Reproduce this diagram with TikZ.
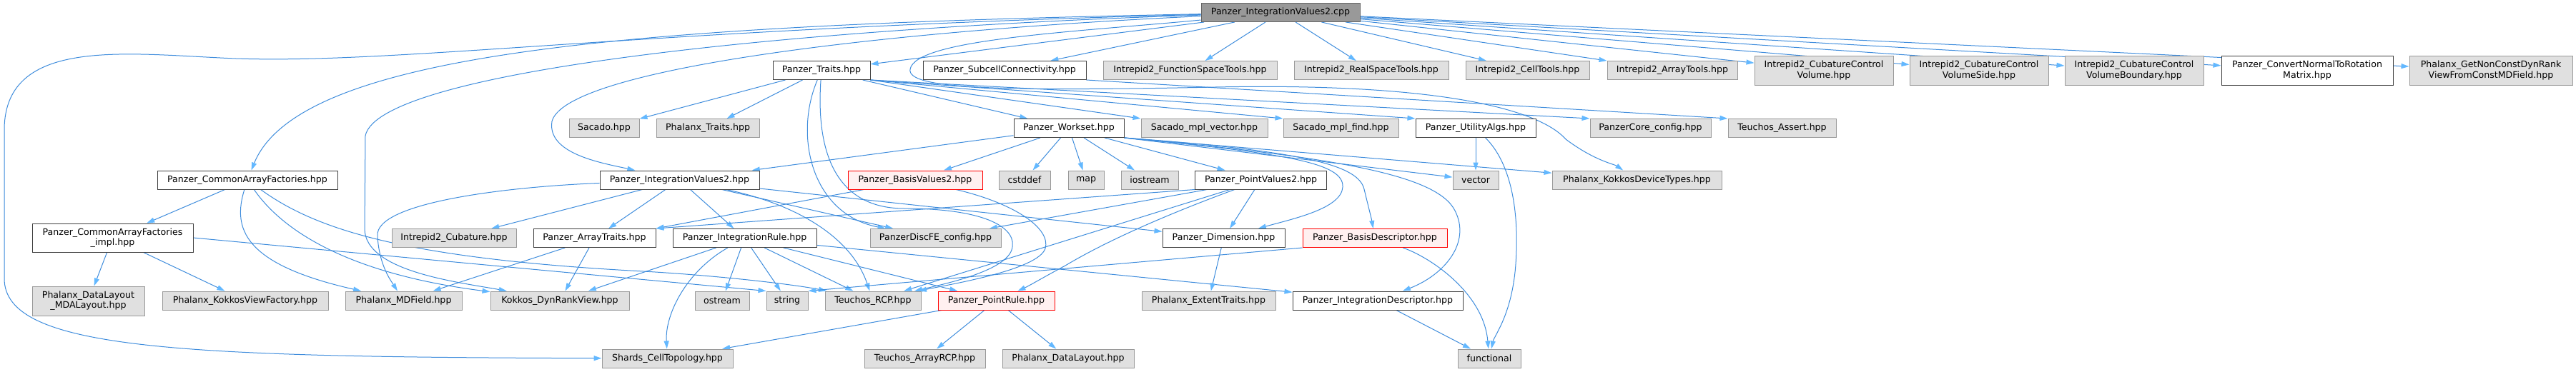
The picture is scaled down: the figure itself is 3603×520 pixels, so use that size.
\documentclass[tikz,border=0pt]{standalone}
\usepackage{fontspec}
\setmainfont{DejaVu Sans}
\usetikzlibrary{arrows.meta}
\definecolor{edgeblue}{RGB}{62,140,220}
\definecolor{headblue}{RGB}{99,184,255}
\definecolor{boxdraw}{RGB}{64,64,64}
\definecolor{sysfill}{RGB}{224,224,224}
\definecolor{sysdraw}{RGB}{153,153,153}
\definecolor{rootfill}{RGB}{153,153,153}
\definecolor{rootdraw}{RGB}{102,102,102}
\definecolor{redfill}{RGB}{255,240,240}
\pgfdeclarelayer{edges}
\pgfsetlayers{edges,main}
\begin{document}
\begin{tikzpicture}[
  x=1pt, y=-1pt,
  box/.style={rectangle, draw=boxdraw, fill=white, line width=1pt, inner sep=0pt,
    minimum height=26pt, align=center, font=\fontsize{12.6}{14.3}\selectfont},
  sysbox/.style={box, draw=sysdraw, fill=sysfill},
  redbox/.style={box, draw=red, fill=redfill},
  rootbox/.style={box, draw=rootdraw, fill=rootfill},
  arrow/.style={-{Triangle[length=11pt, width=7pt, color=headblue]}, draw=edgeblue, line width=1pt}
]
  \useasboundingbox (0,0) rectangle (3603,520);

  \node[rootbox, minimum width=222pt] (cpp) at (1791,17.5) {Panzer\_IntegrationValues2.cpp};

  \node[box, minimum width=136pt] (traits) at (1149,98.5) {Panzer\_Traits.hpp};
  \node[box, minimum width=228pt] (subcell) at (1405,98.5) {Panzer\_SubcellConnectivity.hpp};
  \node[sysbox, minimum width=243pt] (fst) at (1664.5,98.5) {Intrepid2\_FunctionSpaceTools.hpp};
  \node[sysbox, minimum width=216pt] (rst) at (1918,98.5) {Intrepid2\_RealSpaceTools.hpp};
  \node[sysbox, minimum width=173pt] (celltools) at (2136.5,98.5) {Intrepid2\_CellTools.hpp};
  \node[sysbox, minimum width=182pt] (arraytools) at (2339,98.5) {Intrepid2\_ArrayTools.hpp};
  \node[sysbox, minimum width=194pt, minimum height=41pt] (cvol) at (2551,98.5) {Intrepid2\_CubatureControl\\Volume.hpp};
  \node[sysbox, minimum width=194pt, minimum height=41pt] (cvolside) at (2768,98.5) {Intrepid2\_CubatureControl\\VolumeSide.hpp};
  \node[sysbox, minimum width=194pt, minimum height=41pt] (cvolbnd) at (2985,98.5) {Intrepid2\_CubatureControl\\VolumeBoundary.hpp};
  \node[box, minimum width=240pt, minimum height=41pt] (convnormal) at (3227,98.5) {Panzer\_ConvertNormalToRotation\\Matrix.hpp};
  \node[sysbox, minimum width=228pt, minimum height=41pt] (getnonconst) at (3484,98.5) {Phalanx\_GetNonConstDynRank\\ViewFromConstMDField.hpp};

  \node[sysbox, minimum width=98pt] (sacado) at (845,179.5) {Sacado.hpp};
  \node[sysbox, minimum width=144pt] (phxtraits) at (990,179.5) {Phalanx\_Traits.hpp};
  \node[box, minimum width=154pt] (workset) at (1495,179.5) {Panzer\_Workset.hpp};
  \node[sysbox, minimum width=177pt] (mplvector) at (1684.5,179.5) {Sacado\_mpl\_vector.hpp};
  \node[sysbox, minimum width=161pt] (mplfind) at (1875.5,179.5) {Sacado\_mpl\_find.hpp};
  \node[box, minimum width=168pt] (utility) at (2064,179.5) {Panzer\_UtilityAlgs.hpp};
  \node[sysbox, minimum width=169pt] (coreconfig) at (2308.5,179.5) {PanzerCore\_config.hpp};
  \node[sysbox, minimum width=151pt] (assert) at (2492.5,179.5) {Teuchos\_Assert.hpp};

  \node[box, minimum width=252pt] (caf) at (346,252) {Panzer\_CommonArrayFactories.hpp};
  \node[box, minimum width=223pt] (iv2h) at (950.5,252) {Panzer\_IntegrationValues2.hpp};
  \node[redbox, minimum width=188pt] (bv2) at (1280,252) {Panzer\_BasisValues2.hpp};
  \node[sysbox, minimum width=72pt] (cstddef) at (1433,252) {cstddef};
  \node[sysbox, minimum width=50pt] (map) at (1519,252) {map};
  \node[sysbox, minimum width=80pt] (iostream) at (1608,252) {iostream};
  \node[box, minimum width=184pt] (pv2) at (1763.5,252) {Panzer\_PointValues2.hpp};
  \node[sysbox, minimum width=64pt] (vector) at (2064,252) {vector};
  \node[sysbox, minimum width=237pt] (kdt) at (2289.5,252) {Phalanx\_KokkosDeviceTypes.hpp};

  \node[box, minimum width=225pt, minimum height=40pt] (cafimpl) at (157.5,333) {Panzer\_CommonArrayFactories\\\_impl.hpp};
  \node[sysbox, minimum width=174pt] (cub) at (635,333.5) {Intrepid2\_Cubature.hpp};
  \node[box, minimum width=171pt] (arraytraits) at (831.5,333.5) {Panzer\_ArrayTraits.hpp};
  \node[box, minimum width=201pt] (intrule) at (1041.5,333.5) {Panzer\_IntegrationRule.hpp};
  \node[sysbox, minimum width=183pt] (discfe) at (1308.5,333.5) {PanzerDiscFE\_config.hpp};
  \node[box, minimum width=171pt] (dim) at (1711.5,333.5) {Panzer\_Dimension.hpp};
  \node[redbox, minimum width=202pt] (basisdesc) at (1923,333.5) {Panzer\_BasisDescriptor.hpp};

  \node[sysbox, minimum width=157pt, minimum height=41pt] (mdalayout) at (123.5,421.5) {Phalanx\_DataLayout\\\_MDALayout.hpp};
  \node[sysbox, minimum width=232pt] (kvf) at (343,421) {Phalanx\_KokkosViewFactory.hpp};
  \node[sysbox, minimum width=163pt] (mdfield) at (564.5,421) {Phalanx\_MDField.hpp};
  \node[sysbox, minimum width=194pt] (dynrank) at (783,421) {Kokkos\_DynRankView.hpp};
  \node[sysbox, minimum width=76pt] (ostream) at (1010,421) {ostream};
  \node[sysbox, minimum width=58pt] (string) at (1101,421) {string};
  \node[sysbox, minimum width=134pt] (rcp) at (1221,421) {Teuchos\_RCP.hpp};
  \node[redbox, minimum width=163pt] (pointrule) at (1393.5,421) {Panzer\_PointRule.hpp};
  \node[sysbox, minimum width=187pt] (extent) at (1690.5,421) {Phalanx\_ExtentTraits.hpp};
  \node[box, minimum width=238pt] (intdesc) at (1927,421) {Panzer\_IntegrationDescriptor.hpp};

  \node[sysbox, minimum width=183pt] (shards) at (933.5,502) {Shards\_CellTopology.hpp};
  \node[sysbox, minimum width=169pt] (arrayrcp) at (1293.5,502) {Teuchos\_ArrayRCP.hpp};
  \node[sysbox, minimum width=184pt] (datalayout) at (1494,502) {Phalanx\_DataLayout.hpp};
  \node[sysbox, minimum width=88pt] (functional) at (2083,502) {functional};

  \begin{pgfonlayer}{edges}
  \draw[arrow] (cpp) .. controls (900,40) and (560,90) .. (330,82) .. controls (180,76) and (8,50) .. (6,180) -- (6,390) .. controls (6,490) and (250,500) .. (shards);
  \draw[arrow] (cpp) .. controls (900,35) and (420,70) .. (caf);
  \draw[arrow] (cpp) .. controls (1100,40) and (530,100) .. (511,190) -- (510,320) .. controls (510,380) and (640,395) .. (dynrank);
  \draw[arrow] (cpp) .. controls (1200,45) and (790,100) .. (772,170) .. controls (765,215) and (840,228) .. (iv2h);
  \draw[arrow] (cpp) .. controls (1500,45) and (1280,55) .. (1273,97) .. controls (1268,125) and (1400,128) .. (1700,122) .. controls (2000,116) and (2150,150) .. (2190,195) .. controls (2230,225) and (2258,230) .. (kdt);
  \draw[arrow] (cpp) -- (traits);
  \draw[arrow] (cpp) -- (subcell);
  \draw[arrow] (cpp) -- (fst);
  \draw[arrow] (cpp) -- (rst);
  \draw[arrow] (cpp) -- (celltools);
  \draw[arrow] (cpp) -- (arraytools);
  \draw[arrow] (cpp) -- (cvol);
  \draw[arrow] (cpp) -- (cvolside);
  \draw[arrow] (cpp) -- (cvolbnd);
  \draw[arrow] (cpp) -- (convnormal);
  \draw[arrow] (cpp) -- (getnonconst);

  \draw[arrow] (traits) -- (sacado);
  \draw[arrow] (traits) -- (phxtraits);
  \draw[arrow] (traits) -- (workset);
  \draw[arrow] (traits.south east) -- (mplvector.north west);
  \draw[arrow] (traits.south east) -- (mplfind.north west);
  \draw[arrow] (traits.south east) -- (utility.north west);
  \draw[arrow] (traits.south east) -- (coreconfig.north west);
  \draw[arrow] (traits) .. controls (1110,190) and (1135,300) .. (discfe);
  \draw[arrow] (traits) .. controls (1140,230) and (1180,292) .. (1265,292) .. controls (1380,292) and (1425,320) .. (1415,350) .. controls (1405,380) and (1320,398) .. (rcp);
  \draw[arrow] (subcell.south east) -- (assert.north west);

  \draw[arrow] (workset) -- (iv2h);
  \draw[arrow] (workset) -- (bv2);
  \draw[arrow] (workset) -- (cstddef);
  \draw[arrow] (workset) -- (map);
  \draw[arrow] (workset) -- (iostream);
  \draw[arrow] (workset) -- (pv2);
  \draw[arrow] (workset.south east) -- (vector);
  \draw[arrow] (workset.south east) -- (kdt);
  \draw[arrow] (workset.south east) .. controls (1800,215) and (1880,228) .. (1878,262) .. controls (1876,292) and (1810,306) .. (dim);
  \draw[arrow] (workset.south east) .. controls (1830,212) and (1900,232) .. (1908,265) .. controls (1914,290) and (1918,305) .. (basisdesc);
  \draw[arrow] (workset.south east) .. controls (1870,220) and (2010,245) .. (2035,295) .. controls (2058,340) and (2020,385) .. (intdesc);

  \draw[arrow] (utility) -- (vector);
  \draw[arrow] (utility) .. controls (2115,230) and (2125,300) .. (2120,370) .. controls (2115,440) and (2090,470) .. (functional);

  \draw[arrow] (caf) -- (cafimpl);
  \draw[arrow] (caf) .. controls (325,320) and (340,370) .. (mdfield);
  \draw[arrow] (caf) .. controls (400,330) and (500,385) .. (dynrank);
  \draw[arrow] (caf) .. controls (440,320) and (560,362) .. (900,380) .. controls (1020,387) and (1120,400) .. (rcp);
  \draw[arrow] (cafimpl) -- (mdalayout);
  \draw[arrow] (cafimpl) -- (kvf);
  \draw[arrow] (cafimpl.east) -- (string.north west);

  \draw[arrow] (iv2h) -- (arraytraits);
  \draw[arrow] (iv2h) -- (cub);
  \draw[arrow] (iv2h) -- (intrule);
  \draw[arrow] (iv2h) -- (discfe);
  \draw[arrow] (iv2h) -- (dim);
  \draw[arrow] (iv2h) .. controls (700,262) and (525,285) .. (528,330) .. controls (530,372) and (548,395) .. (mdfield);
  \draw[arrow] (iv2h) .. controls (1110,285) and (1190,330) .. (rcp);

  \draw[arrow] (bv2) -- (arraytraits.north east);
  \draw[arrow] (bv2) .. controls (1420,285) and (1470,320) .. (1462,348) .. controls (1452,378) and (1330,398) .. (rcp);

  \draw[arrow] (pv2.south west) -- (arraytraits.north east);
  \draw[arrow] (pv2) -- (discfe);
  \draw[arrow] (pv2) -- (rcp);
  \draw[arrow] (pv2) -- (dim);
  \draw[arrow] (pv2) .. controls (1660,290) and (1560,330) .. (1490,372) .. controls (1460,388) and (1440,400) .. (pointrule);

  \draw[arrow] (arraytraits) -- (mdfield);
  \draw[arrow] (arraytraits) -- (dynrank);

  \draw[arrow] (intrule) .. controls (960,380) and (930,440) .. (shards);
  \draw[arrow] (intrule) -- (ostream);
  \draw[arrow] (intrule) -- (string);
  \draw[arrow] (intrule) -- (rcp);
  \draw[arrow] (intrule) -- (pointrule);
  \draw[arrow] (intrule) -- (intdesc);
  \draw[arrow] (intrule) -- (dynrank);

  \draw[arrow] (pointrule) -- (shards);
  \draw[arrow] (pointrule) -- (arrayrcp);
  \draw[arrow] (pointrule) -- (datalayout);

  \draw[arrow] (dim) -- (extent);
  \draw[arrow] (basisdesc.south west) -- (string.north east);
  \draw[arrow] (basisdesc) .. controls (2000,360) and (2075,410) .. (functional);
  \draw[arrow] (intdesc) -- (functional);
  \end{pgfonlayer}
\end{tikzpicture}
\end{document}
